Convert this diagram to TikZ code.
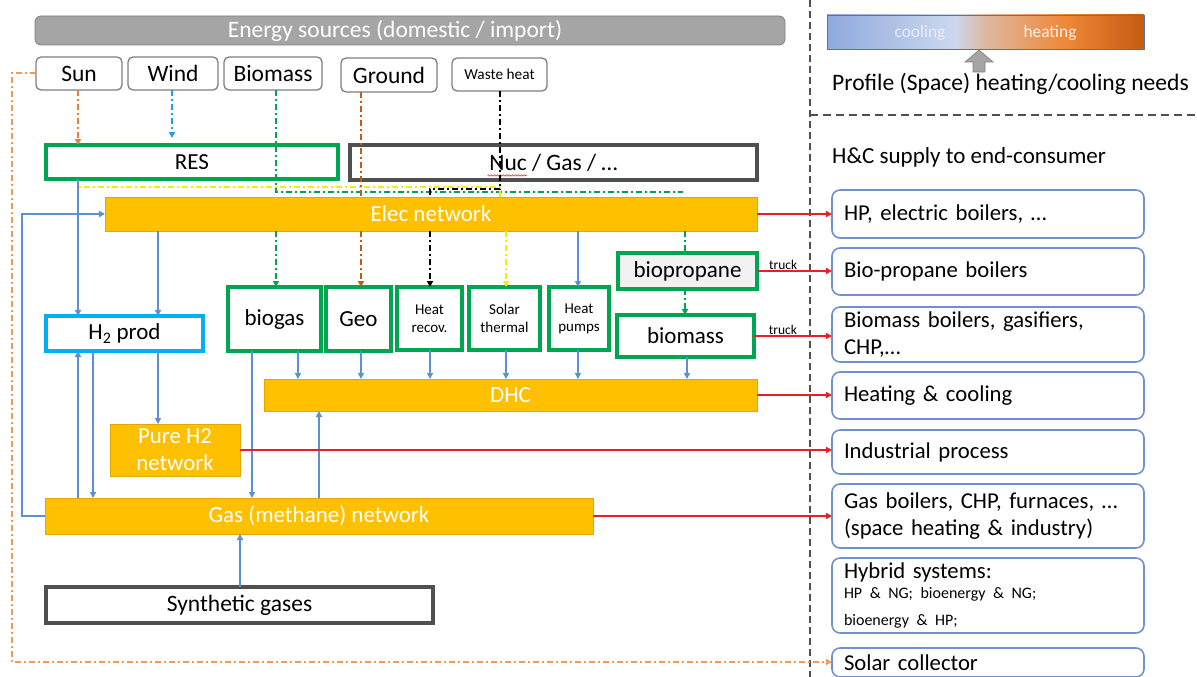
\documentclass[tikz,border=0pt]{standalone}
\usepackage{fontspec}
\setmainfont{Carlito}
\usetikzlibrary{arrows.meta,calc,decorations.pathmorphing}
\definecolor{hdrgray}{HTML}{A5A5A5}
\definecolor{srcgray}{HTML}{7F7F7F}
\definecolor{grn}{HTML}{00A550}
\definecolor{darkbd}{HTML}{505050}
\definecolor{cyanbd}{HTML}{00B0F0}
\definecolor{netor}{HTML}{FFC000}
\definecolor{netbd}{HTML}{E0A800}
\definecolor{arrblue}{HTML}{5B8FD6}
\definecolor{arrred}{HTML}{EE1C25}
\definecolor{endbd}{HTML}{7090D0}
\definecolor{sunor}{HTML}{ED7D31}
\definecolor{loopor}{HTML}{F19A5A}
\definecolor{grdbr}{HTML}{C55A11}
\definecolor{windbl}{HTML}{1FA0E0}
\definecolor{yel}{HTML}{F0F000}
\definecolor{gblue}{HTML}{8EAADE}
\definecolor{glight}{HTML}{CCD8EE}
\definecolor{gbeige}{HTML}{DDB8A0}
\definecolor{gorange}{HTML}{EF8838}
\definecolor{gdark}{HTML}{C55A11}
\newcommand\bx[7]{\node[#1,anchor=north west,inner sep=0pt,outer sep=0pt,align=center,minimum width={(#5-#3)*1pt},minimum height={(#6-#4)*1pt}] (#2) at (#3,#4) {#7};}
\newcommand\ebox[4]{\node[endbox,anchor=north west,minimum height={(#3-#2)*1pt},text width=288pt,inner xsep=12pt,inner ysep=0pt,outer sep=0pt,align=left] (#1) at (832,#2) {#4};}
\begin{document}
\begin{tikzpicture}[x=1pt,y=-1pt,
  hdr/.style={fill=hdrgray,draw=srcgray,line width=0.8pt,rounded corners=6pt,text=white,font=\fontsize{23.5}{27}\selectfont},
  src/.style={draw=srcgray,line width=1.3pt,rounded corners=5pt,fill=white,font=\fontsize{23.5}{27}\selectfont},
  grnbox/.style={draw=grn,line width=3.2pt,fill=white,font=\fontsize{23}{27}\selectfont},
  smalltxt/.style={font=\fontsize{15}{18}\selectfont},
  darkbox/.style={draw=darkbd,line width=3.2pt,fill=white,font=\fontsize{23.5}{27}\selectfont},
  cyanbox/.style={draw=cyanbd,line width=3.2pt,fill=white,font=\fontsize{23}{27}\selectfont},
  net/.style={fill=netor,draw=netbd,line width=0.6pt,text=white,font=\fontsize{23}{27}\selectfont},
  endbox/.style={draw=endbd,line width=1.6pt,rounded corners=8pt,fill=white,font=\fontsize{22.7}{27}\selectfont},
  tip/.style={-{Triangle[length=6pt,width=6pt]}},
  barrow/.style={draw=arrblue,line width=1.4pt,tip},
  rarrow/.style={draw=arrred,line width=1.6pt,tip},
  dd/.style={line width=1.4pt,dash pattern=on 6pt off 3pt on 2pt off 3pt},
  trucklbl/.style={font=\fontsize{13.5}{15}\selectfont,inner sep=1pt,above}
]
\useasboundingbox (0,0) rectangle (1197,677);
\fill[white] (0,0) rectangle (1197,677);

% column coordinates
\coordinate (x78) at (78,0);
\coordinate (x93) at (93,0);
\coordinate (x158) at (158,0);
\coordinate (x172) at (172,0);
\coordinate (x240) at (240,0);
\coordinate (x252) at (252,0);
\coordinate (x276) at (276,0);
\coordinate (x298) at (298,0);
\coordinate (x319) at (319,0);
\coordinate (x361) at (361,0);
\coordinate (x430) at (430,0);
\coordinate (x500) at (500,0);
\coordinate (x506) at (506,0);
\coordinate (x578) at (578,0);
\coordinate (x685) at (685,0);
\coordinate (x687) at (687,0);

% header and sources
\bx{hdr}{hdr}{35}{16}{785}{45}{Energy sources (domestic / import)\hspace*{30pt}}
\bx{src}{sun}{36}{57}{122}{90}{Sun}
\bx{src}{wind}{128}{57}{218}{90}{Wind}
\bx{src}{biom}{224}{57}{322}{90}{Biomass}
\bx{src}{ground}{341}{58}{437}{92}{Ground}
\bx{src,font=\fontsize{15.3}{18}\selectfont}{waste}{452}{58}{547}{91}{Waste heat}

\bx{grnbox}{res}{46}{145}{338}{179}{RES}
\bx{darkbox}{nuc}{350}{145}{757}{180}{Nuc / Gas / …}
\draw[arrred,line width=0.6pt,decorate,decoration={snake,amplitude=0.7pt,segment length=3pt}] ([xshift=-66pt,yshift=-13pt]nuc.center) -- ([xshift=-27pt,yshift=-13pt]nuc.center);

% lower boxes
\bx{cyanbox}{h2}{46}{316}{203}{351}{H\textsubscript{2} prod}
\bx{grnbox}{biogas}{228}{287}{321}{351}{biogas}
\bx{grnbox}{geo}{326}{287}{391}{351}{Geo}
\bx{grnbox,smalltxt}{hrec}{397}{287}{462}{350}{Heat\\recov.}
\bx{grnbox,smalltxt}{solar}{469}{287}{540}{350}{Solar\\thermal}
\bx{grnbox,smalltxt}{hpump}{549}{287}{609}{350}{Heat\\pumps}
\bx{grnbox,fill=black!5}{bprop}{618}{253}{757}{289}{biopropane}
\bx{grnbox}{bmass}{617}{315}{754}{357}{biomass}
\bx{darkbox}{synth}{46}{587}{433}{623}{Synthetic gases}

% source connectors (dash-dot)
\draw[dd,sunor,tip] (sun.south -| x78) -- (res.north -| x78);
\draw[dd,windbl,tip,shorten >=7pt] (wind.south -| x172) -- (res.north -| x172);
\coordinate (gA) at (276,192);
\coordinate (gB) at (683,192);
\draw[dd,grn] (biom.south -| x276) -- (gA) -- (gB);
\coordinate (yA) at (78,187);
\coordinate (yB) at (500,187);
\draw[dd,yel] (res.south -| x78) -- (yA) -- (yB) -- (500,197);
\draw[dd,grdbr] (ground.south -| x361) -- (361,197);
\coordinate (wA) at (500,189);
\coordinate (wB) at (430,189);
\draw[dd,black] (waste.south -| x500) -- (wA) -- (wB) -- (430,197);

% networks
\bx{net}{elec}{105}{197}{757}{231}{Elec network}
\bx{net}{dhc}{264}{379}{757}{411}{DHC}
\bx{net,font=\fontsize{22.8}{27}\selectfont}{pureh}{110}{424}{240}{476}{Pure H2\\network}
\bx{net}{gas}{45}{498}{593}{534}{Gas (methane) network}

% below elec dash-dot continuations
\draw[dd,grn,tip] (elec.south -| x276) -- (biogas.north -| x276);
\draw[dd,grdbr,tip] (elec.south -| x361) -- (geo.north -| x361);
\draw[dd,black,tip] (elec.south -| x430) -- (hrec.north -| x430);
\draw[dd,yel,tip] (elec.south -| x506) -- (solar.north -| x506);
\draw[dd,grn] (elec.south -| x685) -- (bprop.north -| x685);
\draw[dd,grn,tip] (bprop.south -| x685) -- (bmass.north -| x685);

% blue connectors
\draw[barrow] (res.south -| x78) -- (h2.north -| x78);
\draw[barrow] (elec.south -| x158) -- (h2.north -| x158);
\draw[barrow] (h2.south -| x158) -- (pureh.north -| x158);
\draw[barrow] (gas.north -| x78) -- (h2.south -| x78);
\draw[barrow] (h2.south -| x93) -- (gas.north -| x93);
\draw[barrow] (biogas.south -| x252) -- (gas.north -| x252);
\draw[barrow] (gas.north -| x319) -- (dhc.south -| x319);
\draw[barrow] (synth.north -| x240) -- (gas.south -| x240);
\draw[barrow] (biogas.south -| x298) -- (dhc.north -| x298);
\draw[barrow] (geo.south -| x361) -- (dhc.north -| x361);
\draw[barrow] (hrec.south -| x430) -- (dhc.north -| x430);
\draw[barrow] (solar.south -| x506) -- (dhc.north -| x506);
\draw[barrow] (hpump.south -| x578) -- (dhc.north -| x578);
\draw[barrow] (elec.south -| x578) -- (hpump.north -| x578);
\draw[barrow] (bmass.south -| x687) -- (dhc.north -| x687);
\coordinate (lA) at (22,516);
\coordinate (lB) at (22,214);
\draw[barrow] (gas.west |- lA) -- (lA) -- (lB) -- (elec.west |- lB);

% right side
\draw[line width=1.3pt,darkbd,dash pattern=on 7pt off 4pt] (810,0) -- (810,677);
\draw[line width=1.3pt,darkbd,dash pattern=on 8pt off 5pt] (810,115) -- (1197,115);

\shade[left color=gblue,right color=glight] (827,15) rectangle (955,49);
\shade[left color=glight,right color=gbeige] (955,15) rectangle (985,49);
\shade[left color=gbeige,right color=gorange] (985,15) rectangle (1065,49);
\shade[left color=gorange,right color=gdark] (1065,15) rectangle (1144,49);
\node[draw=endbd!80!black,line width=0.9pt,anchor=north west,inner sep=0pt,minimum width=317pt,minimum height=34pt] (grad) at (827,15) {};
\node[text=white!92!blue,font=\fontsize{17.4}{20}\selectfont] (cool) at (920,33) {cooling};
\node[text=white!88!orange,font=\fontsize{17.4}{20}\selectfont] (heat) at (1050,33) {heating};
\fill[hdrgray,draw=srcgray,line width=0.6pt] (973,72) -- (973,62) -- (965,62) -- (979,50) -- (993,62) -- (985,62) -- (985,72) -- cycle;
\node[anchor=west,inner sep=0pt,font=\fontsize{23.6}{27}\selectfont] (prof) at (832,84) {Profile (Space) heating/cooling needs};
\node[anchor=west,inner sep=0pt,font=\fontsize{23}{27}\selectfont] (hc) at (832,157) {H\&C supply to end-consumer};

\ebox{e1}{190}{238}{HP, electric boilers, …}
\ebox{e2}{248}{295}{Bio-propane boilers}
\ebox{e3}{307}{362}{Biomass boilers, gasifiers,\\CHP,…}
\ebox{e4}{372}{419}{Heating \& cooling}
\ebox{e5}{430}{474}{Industrial process}
\ebox{e6}{484}{548}{Gas boilers, CHP, furnaces, …\\(space heating \& industry)}
\ebox{e7}{558}{633}{Hybrid systems:\\[-3pt]{\fontsize{16}{23}\selectfont HP \& NG; bioenergy \& NG;\\bioenergy \& HP;}}
\ebox{e8}{648}{677}{Solar collector}

% red connectors
\draw[rarrow] (elec.east) -- (elec.east -| e1.west);
\draw[rarrow] (bprop.east) -- node[trucklbl,pos=0.35]{truck} (bprop.east -| e2.west);
\draw[rarrow] (bmass.east) -- node[trucklbl,pos=0.37]{truck} (bmass.east -| e3.west);
\draw[rarrow] (dhc.east) -- (dhc.east -| e4.west);
\draw[rarrow] (pureh.east) -- (pureh.east -| e5.west);
\draw[rarrow] (gas.east) -- (gas.east -| e6.west);

% orange loop sun -> solar collector
\coordinate (oA) at (12,73);
\coordinate (oB) at (12,662);
\draw[dd,loopor,tip] (sun.west |- oA) -- (oA) -- (oB) -- (e8.west |- oB);
\end{tikzpicture}
\end{document}
